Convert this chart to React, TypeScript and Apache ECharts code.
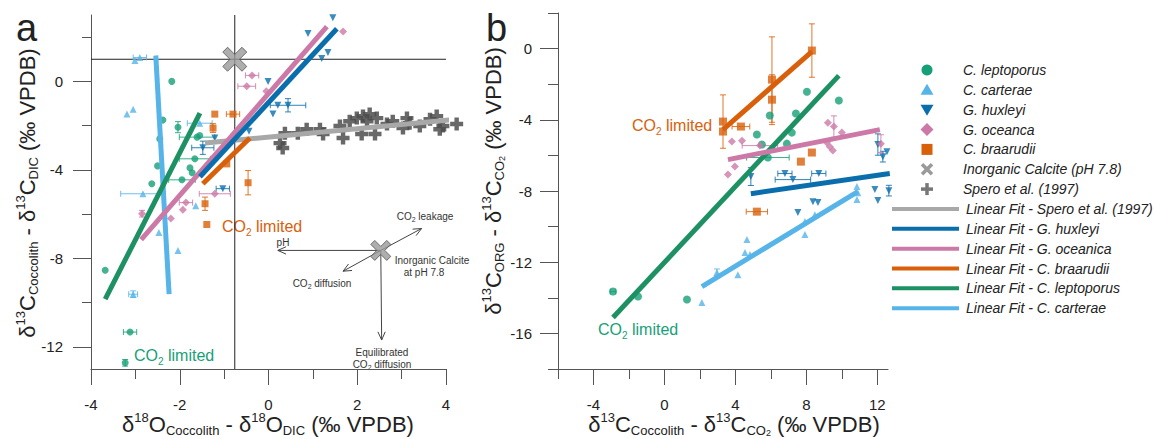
import React, { useEffect, useRef } from 'react';
import * as echarts from 'echarts';

// ---------- DATA ----------
// Panel a: [δ18O diff, δ13C diff, xErr, yErr]
const aLeptoporus = [
  [-2.18, 0.0, 0, 0], [-2.38, -1.75, 0, 0], [-2.04, -2.07, 0, 0.25], [-2.45, -2.6, 0, 0],
  [-1.61, -2.52, 0.4, 0], [-1.55, -2.45, 0, 0], [-1.66, -3.5, 0.35, 0], [-2.5, -3.82, 0, 0],
  [-1.77, -3.91, 0, 0], [-1.72, -4.13, 0, 0], [-1.95, -4.45, 0.3, 0], [-2.63, -4.63, 0, 0],
  [-3.68, -8.54, 0, 0], [-3.12, -11.33, 0.15, 0], [-3.23, -12.72, 0, 0.15],
];
const aCarterae = [
  [-2.9, 1.08, 0.15, 0], [-3.01, 0.94, 0, 0], [-3.19, -1.48, 0, 0], [-3.05, -1.26, 0, 0],
  [-1.55, -1.89, 0.28, 0], [-2.83, -5.08, 0.5, 0], [-1.64, -5.62, 0, 0], [-2.47, -6.83, 0, 0],
  [-2.04, -7.64, 0, 0], [-3.05, -9.62, 0.1, 0.15],
];
const aHuxleyi = [
  [-1.48, -3.0, 0.25, 0.3], [-1.21, -2.56, 0, 0], [-0.44, -2.25, 0, 0], [-0.01, 0.0, 0, 0],
  [1.34, 1.3, 0, 0], [1.2, 1.03, 0, 0], [0.89, 2.16, 0, 0], [1.45, 2.88, 0, 0],
  [0.21, -1.08, 0, 0], [0.44, -1.08, 0.4, 0.3], [0.1, -1.48, 0, 0], [-1.03, -4.85, 0.15, 0],
];
const aOceanica = [
  [-0.37, 0.27, 0.15, 0], [-0.49, -0.22, 0.2, 0], [1.68, 2.25, 0, 0], [-0.05, -0.45, 0, 0],
  [-1.21, -5.08, 0.35, 0], [-1.86, -5.48, 0.15, 0], [-1.93, -5.8, 0, 0], [-2.85, -5.98, 0, 0.15],
  [-2.2, -6.2, 0, 0],
];
const aBraarudii = [
  [-1.21, -1.48, 0, 0], [-0.8, -1.48, 0.15, 0], [-1.25, -2.11, 0, 0.2], [-0.94, -3.73, 0, 0],
  [-1.43, -5.53, 0, 0.3], [-1.39, -6.47, 0, 0], [-0.46, -4.58, 0, 0.55],
];
const aSpero = [
  [0.37, -2.34], [0.26, -2.79], [0.32, -3.01], [0.66, -2.34], [0.86, -2.16], [1.16, -2.16],
  [1.23, -2.38], [1.61, -2.02], [1.68, -2.56], [1.83, -1.8], [1.99, -1.66], [2.13, -1.57],
  [2.22, -1.8], [2.28, -1.48], [2.44, -1.66], [2.1, -2.38], [2.4, -2.38], [2.67, -1.93],
  [2.8, -1.8], [3.03, -2.11], [3.12, -1.66], [3.18, -1.89], [3.41, -2.02], [3.64, -1.71],
  [3.79, -1.57], [3.93, -2.02], [3.86, -2.16], [4.24, -1.93],
];
const aInorganic = [[-0.76, 1.0]];
const aRefH = [[-4, 1.0], [4, 1.0]];
const aRefV = [[-0.76, -13], [-0.76, 3]];
// schematic: centre X and arrow ends [x1, y1, x2, y2]
const aSchemeCentre = [[2.53, -7.64]];
const aArrows = [
  [2.53, -7.64, 0.21, -7.64],
  [2.53, -7.64, 3.45, -6.65],
  [2.53, -7.64, 1.68, -8.58],
  [2.53, -7.64, 2.55, -11.69],
];
// linear fits, panel a
const aFitCarterae = [[-2.54, 1.17], [-2.24, -9.62]];
const aFitLeptoporus = [[-3.68, -9.84], [-1.545, -1.44]];
const aFitOceanica = [[-2.87, -7.15], [1.315, 2.47]];
const aFitHuxleyi = [[-1.545, -4.31], [1.54, 2.38]];
const aFitBraarudii = [[-1.48, -4.63], [-0.42, -2.56]];
const aFitSpero = [[-1.43, -2.79], [4.25, -1.71]];

// Panel b: [δ13C coccolith - CO2, δ13C org - CO2, xErr, yErr]
const bLeptoporus = [
  [5.94, -3.76, 0, 0], [5.21, -4.83, 0, 0], [5.49, -5.39, 0, 0], [5.83, -6.12, 1.2, 0],
  [7.18, -4.72, 0, 0], [7.41, -3.65, 0, 0], [6.9, -5.34, 0, 0], [8.03, -2.42, 0, 0],
  [9.83, -2.92, 0, 0], [-2.9, -13.65, 0.15, 0], [-1.49, -13.93, 0, 0], [1.27, -14.1, 0, 0],
];
const bCarterae = [
  [2.11, -14.27, 0, 0], [2.96, -12.58, 0, 0.2], [4.14, -12.7, 0, 0], [4.65, -10.73, 0, 0],
  [4.54, -11.46, 0, 0], [4.82, -11.57, 0, 0], [7.92, -9.72, 0, 0], [7.92, -10.45, 0, 0],
  [8.48, -9.33, 0, 0], [10.85, -7.75, 0, 0], [10.85, -8.48, 0, 0], [10.9, -8.1, 0, 0],
];
const bHuxleyi = [
  [4.87, -7.19, 0, 0.5], [6.79, -7.02, 0.4, 0], [7.24, -7.36, 1.0, 0], [8.7, -7.02, 0.4, 0],
  [12.03, -5.39, 0, 0.6], [12.54, -5.79, 0, 0], [12.31, -6.07, 0, 0.3], [11.86, -7.92, 0, 0],
  [12.03, -8.54, 0, 0], [12.65, -7.98, 0, 0.3], [7.52, -9.21, 0, 0], [8.37, -8.6, 0, 0],
  [8.65, -8.65, 0, 0],
];
const bOceanica = [
  [3.8, -5.22, 0, 0], [4.37, -5.17, 0, 0], [5.38, -5.45, 1.0, 0], [3.97, -6.63, 0, 0],
  [3.58, -7.08, 0, 0], [9.21, -4.16, 0, 0], [9.55, -4.38, 0, 0.6], [10.0, -4.72, 0, 0],
  [9.15, -5.28, 0, 0], [9.32, -5.51, 0, 0], [9.49, -5.73, 0, 0], [12.2, -5.34, 0, 0.5],
];
const bBraarudii = [
  [3.3, -4.1, 0, 1.5], [3.3, -4.66, 0, 0], [4.31, -4.38, 0.5, 0], [6.06, -1.74, 0, 2.4],
  [6.06, -2.87, 0, 1.4], [8.31, -0.11, 0, 1.5], [7.69, -6.35, 0, 0], [8.31, -5.84, 0, 0],
  [5.21, -9.16, 0.6, 0],
];
const bFitBraarudii = [[3.3, -4.55], [8.31, -0.17]];
const bFitLeptoporus = [[-2.9, -15.11], [9.83, -1.52]];
const bFitOceanica = [[3.58, -6.24], [12.14, -4.55]];
const bFitHuxleyi = [[4.87, -8.15], [12.7, -7.02]];
const bFitCarterae = [[2.11, -13.37], [10.9, -8.03]];

const legendLabels = [
  'C. leptoporus', 'C. carterae', 'G. huxleyi', 'G. oceanca', 'C. braarudii',
  'Inorganic Calcite (pH 7.8)', 'Spero et al. (1997)',
  'Linear Fit - Spero et al. (1997)', 'Linear Fit - G. huxleyi', 'Linear Fit - G. oceanica',
  'Linear Fit - C. braarudii', 'Linear Fit - C. leptoporus', 'Linear Fit - C. carterae',
];

// ---------- STYLE ----------
const FF = '"Liberation Sans", Arial, Helvetica, sans-serif';
const C = {
  lep: '#17a077', lepLine: '#1d9163', car: '#56b4e9', hux: '#0b6eac', oce: '#cc79a7',
  bra: '#d9600a', gray: '#9a9a9a', spero: '#4d4d4d', fitSpero: '#a8a8a8',
};
const AX = '#555';
const TXT = '#222';
const PLUS = 'path://M3.3,0h3.4v3.3h3.3v3.4h-3.3v3.3h-3.4v-3.3h-3.3v-3.4h3.3z';
const XSYM = 'path://M2,0L5,3L8,0L10,2L7,5L10,8L8,10L5,7L2,10L0,8L3,5L0,2Z';

function scatter(data: number[][], gi: number, symbol: string, color: string, size: number, rotate = 0) {
  return {
    type: 'scatter', xAxisIndex: gi, yAxisIndex: gi, data: data.map((d) => [d[0], d[1]]),
    symbol, symbolSize: size, symbolRotate: rotate, itemStyle: { color },
    clip: false, z: 3, silent: true,
  };
}
function errBars(data: number[][], gi: number, color: string) {
  return {
    type: 'custom', xAxisIndex: gi, yAxisIndex: gi, silent: true, z: 2, clip: false,
    data: data.filter((d) => d[2] > 0 || d[3] > 0), encode: { x: 0, y: 1 },
    renderItem: (_p: any, api: any) => {
      const x = api.value(0), y = api.value(1), xe = api.value(2), ye = api.value(3);
      const st = { stroke: color, lineWidth: 1, opacity: 0.85 };
      const ch: any[] = [];
      const ln = (a: number[], b: number[]) => ({ type: 'line', shape: { x1: a[0], y1: a[1], x2: b[0], y2: b[1] }, style: st });
      if (xe > 0) {
        const l = api.coord([x - xe, y]), r = api.coord([x + xe, y]);
        ch.push(ln(l, r), ln([l[0], l[1] - 3], [l[0], l[1] + 3]), ln([r[0], r[1] - 3], [r[0], r[1] + 3]));
      }
      if (ye > 0) {
        const t = api.coord([x, y + ye]), b = api.coord([x, y - ye]);
        ch.push(ln(t, b), ln([t[0] - 3, t[1]], [t[0] + 3, t[1]]), ln([b[0] - 3, b[1]], [b[0] + 3, b[1]]));
      }
      return { type: 'group', children: ch };
    },
  };
}
function fit(pts: number[][], gi: number, color: string, width = 5) {
  return {
    type: 'line', xAxisIndex: gi, yAxisIndex: gi, data: pts, symbol: 'none', showSymbol: false,
    lineStyle: { color, width, cap: 'butt' }, clip: false, z: 4, silent: true,
  };
}
function refLine(pts: number[][], gi: number) {
  return {
    type: 'line', xAxisIndex: gi, yAxisIndex: gi, data: pts, symbol: 'none',
    lineStyle: { color: '#222', width: 1 }, z: 1, silent: true,
  };
}
function arrows(data: number[][], gi: number) {
  return {
    type: 'custom', xAxisIndex: gi, yAxisIndex: gi, silent: true, z: 5, data, encode: { x: [0, 2], y: [1, 3] },
    renderItem: (_p: any, api: any) => {
      const s = api.coord([api.value(0), api.value(1)]);
      const e = api.coord([api.value(2), api.value(3)]);
      const ang = Math.atan2(e[1] - s[1], e[0] - s[0]);
      const h = 9, w = 0.42;
      const p1 = [e[0] - h * Math.cos(ang - w), e[1] - h * Math.sin(ang - w)];
      const p2 = [e[0] - h * Math.cos(ang + w), e[1] - h * Math.sin(ang + w)];
      const st = { stroke: '#444', lineWidth: 1, fill: null };
      return {
        type: 'group', children: [
          { type: 'line', shape: { x1: s[0], y1: s[1], x2: e[0], y2: e[1] }, style: st },
          { type: 'polyline', shape: { points: [p1, e, p2] }, style: st },
        ],
      };
    },
  };
}

const T = 22, S = 13;
const richTitle: any = {
  m: { fontSize: T, fontFamily: FF, fill: TXT, lineHeight: 26 },
  p: { fontSize: S, fontFamily: FF, fill: TXT, lineHeight: 14, verticalAlign: 'top' },
  b: { fontSize: S, fontFamily: FF, fill: TXT, lineHeight: 12, verticalAlign: 'bottom' },
  bb: { fontSize: 9, fontFamily: FF, fill: TXT, lineHeight: 6, verticalAlign: 'bottom' },
};
const richSmall: any = {
  s: { fontSize: 10, fontFamily: FF, fill: '#333', lineHeight: 14 },
  u: { fontSize: 7, fontFamily: FF, fill: '#333', lineHeight: 6, verticalAlign: 'bottom' },
};
function limRich(color: string) {
  return {
    o: { fontSize: 16, fontFamily: FF, fill: color, lineHeight: 22 },
    u: { fontSize: 10, fontFamily: FF, fill: color, lineHeight: 9, verticalAlign: 'bottom' },
  };
}

function buildGraphic() {
  const g: any[] = [];
  const txt = (x: number, y: number, text: string, rich: any, align = 'center', rotation = 0) =>
    g.push({ type: 'text', x, y, rotation, silent: true, style: { text, rich, align, verticalAlign: 'middle' } });
  // panel letters
  g.push({ type: 'text', x: 16, y: 28, style: { text: 'a', fontSize: 38, fontFamily: FF, fill: TXT, verticalAlign: 'middle' } });
  g.push({ type: 'text', x: 486, y: 28, style: { text: 'b', fontSize: 38, fontFamily: FF, fill: TXT, verticalAlign: 'middle' } });
  // axis titles
  txt(268, 424, '{m|δ}{p|18}{m|O}{b|Coccolith}{m| - δ}{p|18}{m|O}{b|DIC}{m| (‰ VPDB)}', richTitle);
  txt(734, 424, '{m|δ}{p|13}{m|C}{b|Coccolith}{m| - δ}{p|13}{m|C}{b|CO}{bb|2}{m| (‰ VPDB)}', richTitle);
  txt(27, 193, '{m|δ}{p|13}{m|C}{b|Coccolith}{m| - δ}{p|13}{m|C}{b|DIC}{m| (‰ VPDB)}', richTitle, 'center', Math.PI / 2);
  txt(493, 181, '{m|δ}{p|13}{m|C}{b|ORG}{m| - δ}{p|13}{m|C}{b|CO}{bb|2}{m| (‰ VPDB)}', richTitle, 'center', Math.PI / 2);
  // CO2 limited labels
  txt(222, 226, '{o|CO}{u|2}{o| limited}', limRich(C.bra), 'left');
  txt(134, 355, '{o|CO}{u|2}{o| limited}', limRich(C.lep), 'left');
  txt(632, 125, '{o|CO}{u|2}{o| limited}', limRich(C.bra), 'left');
  txt(598, 329, '{o|CO}{u|2}{o| limited}', limRich(C.lep), 'left');
  // schematic labels
  txt(425, 216, '{s|CO}{u|2}{s| leakage}', richSmall);
  txt(283, 242, '{s|pH}', richSmall);
  txt(322, 283, '{s|CO}{u|2}{s| diffusion}', richSmall);
  txt(432, 260, '{s|Inorganic Calcite}', richSmall);
  txt(424, 272, '{s|at pH 7.8}', richSmall);
  txt(382, 352, '{s|Equilibrated}', richSmall);
  txt(382, 364, '{s|CO}{u|2}{s| diffusion}', richSmall);
  // legend
  const cx = 927, y0 = 70, dy = 19.85;
  const ys = legendLabels.map((_, i) => y0 + i * dy);
  g.push({ type: 'circle', shape: { cx, cy: ys[0], r: 5.5 }, style: { fill: C.lep } });
  g.push({ type: 'polygon', shape: { points: [[cx, ys[1] - 6], [cx - 6.5, ys[1] + 5], [cx + 6.5, ys[1] + 5]] }, style: { fill: C.car } });
  g.push({ type: 'polygon', shape: { points: [[cx - 6.5, ys[2] - 5], [cx + 6.5, ys[2] - 5], [cx, ys[2] + 6]] }, style: { fill: C.hux } });
  g.push({ type: 'polygon', shape: { points: [[cx, ys[3] - 6.5], [cx + 6.5, ys[3]], [cx, ys[3] + 6.5], [cx - 6.5, ys[3]]] }, style: { fill: C.oce } });
  g.push({ type: 'rect', shape: { x: cx - 5.5, y: ys[4] - 5.5, width: 11, height: 11 }, style: { fill: C.bra } });
  g.push({ type: 'line', shape: { x1: cx - 5, y1: ys[5] - 5, x2: cx + 5, y2: ys[5] + 5 }, style: { stroke: C.gray, lineWidth: 3.5 } });
  g.push({ type: 'line', shape: { x1: cx - 5, y1: ys[5] + 5, x2: cx + 5, y2: ys[5] - 5 }, style: { stroke: C.gray, lineWidth: 3.5 } });
  g.push({ type: 'line', shape: { x1: cx - 6, y1: ys[6], x2: cx + 6, y2: ys[6] }, style: { stroke: '#777', lineWidth: 3.5 } });
  g.push({ type: 'line', shape: { x1: cx, y1: ys[6] - 6, x2: cx, y2: ys[6] + 6 }, style: { stroke: '#777', lineWidth: 3.5 } });
  const lineCols = [C.fitSpero, C.hux, C.oce, C.bra, C.lepLine, C.car];
  lineCols.forEach((col, i) => {
    const y = ys[7 + i];
    g.push({ type: 'line', shape: { x1: 892, y1: y, x2: 959, y2: y }, style: { stroke: col, lineWidth: 4 } });
  });
  legendLabels.forEach((lab, i) => {
    g.push({
      type: 'text', x: i < 7 ? 963 : 966, y: ys[i], silent: true,
      style: { text: lab, fontSize: 14, fontStyle: 'italic', fontFamily: FF, fill: TXT, verticalAlign: 'middle' },
    });
  });
  return g;
}

const labelStyle = { fontSize: 15, color: TXT, fontFamily: FF };
const noSplit = { splitLine: { show: false }, minorSplitLine: { show: false } };
const lineOnly = {
  type: 'value', axisLine: { show: true, onZero: false, lineStyle: { color: AX, width: 1 } },
  axisTick: { show: false }, axisLabel: { show: false }, ...noSplit,
};
const hidden = { type: 'value', show: false, ...noSplit };
function tickAxis(gridIndex: number, min: number, max: number, interval: number, length: number, labels: boolean, margin = 28) {
  return {
    gridIndex, type: 'value', min, max, interval,
    axisLine: { show: false, onZero: false },
    axisTick: { show: true, length, lineStyle: { color: AX } },
    axisLabel: labels ? { margin, ...labelStyle } : { show: false },
    ...noSplit,
  };
}

// pixel geometry of the two panels
const A = { left: 91, top: 15, width: 355, height: 354 }; // x -4..4, y -13..3
const B = { left: 558, top: 13, width: 330, height: 356 }; // x -6..12.6, y -18..2
const aPy = A.height / 16;
const bPx = B.width / 18.6;
const bPy = B.height / 20;

export default function App() {
  const ref = useRef<HTMLDivElement>(null);
  useEffect(() => {
    if (!ref.current) return;
    const chart = echarts.init(ref.current, undefined, { renderer: 'svg' });
    const option: any = {
      animation: false,
      backgroundColor: '#ffffff',
      grid: [
        { ...A },
        { left: A.left, width: A.width, top: A.top + aPy, height: 14 * aPy }, // a: y minor -12..2
        { left: A.left, width: A.width, top: A.top + 3 * aPy, height: 12 * aPy }, // a: y major -12..0
        { ...B },
        { left: B.left, width: 18 * bPx, top: B.top, height: B.height }, // b: x minor -6..12
        { left: B.left + 2 * bPx, width: 16 * bPx, top: B.top, height: B.height }, // b: x major -4..12
        { left: B.left, width: B.width, top: B.top + 2 * bPy, height: 16 * bPy }, // b: y major -16..0
      ],
      xAxis: [
        {
          gridIndex: 0, type: 'value', min: -4, max: 4, interval: 2,
          axisLine: { show: true, onZero: false, lineStyle: { color: AX } },
          axisTick: { show: true, length: 16, lineStyle: { color: AX } },
          minorTick: { show: true, splitNumber: 2, length: 10, lineStyle: { color: AX } },
          axisLabel: { margin: 28, ...labelStyle }, ...noSplit,
        },
        { gridIndex: 1, min: -4, max: 4, ...hidden },
        { gridIndex: 2, min: -4, max: 4, ...hidden },
        { gridIndex: 3, min: -6, max: 12.6, ...lineOnly },
        tickAxis(4, -6, 12, 2, 10, false),
        tickAxis(5, -4, 12, 4, 16, true),
        { gridIndex: 6, min: -6, max: 12.6, ...hidden },
      ],
      yAxis: [
        { gridIndex: 0, min: -13, max: 3, ...lineOnly },
        tickAxis(1, -12, 2, 2, 9, false),
        tickAxis(2, -12, 0, 4, 18, true),
        {
          gridIndex: 3, type: 'value', min: -18, max: 2, interval: 2,
          axisLine: { show: true, onZero: false, lineStyle: { color: AX } },
          axisTick: { show: true, length: 10, lineStyle: { color: AX } },
          axisLabel: { show: false }, ...noSplit,
        },
        { gridIndex: 4, min: -18, max: 2, ...hidden },
        { gridIndex: 5, min: -18, max: 2, ...hidden },
        tickAxis(6, -16, 0, 4, 18, true, 26),
      ],
      series: [
        // panel a
        refLine(aRefH, 0), refLine(aRefV, 0),
        { ...scatter(aSpero, 0, PLUS, C.spero, 13), itemStyle: { color: C.spero, opacity: 0.85 } },
        errBars(aLeptoporus, 0, C.lep), errBars(aCarterae, 0, C.car), errBars(aHuxleyi, 0, C.hux),
        errBars(aOceanica, 0, C.oce), errBars(aBraarudii, 0, C.bra),
        scatter(aLeptoporus, 0, 'circle', C.lep, 7),
        scatter(aCarterae, 0, 'triangle', C.car, 7),
        scatter(aHuxleyi, 0, 'triangle', C.hux, 7, 180),
        scatter(aOceanica, 0, 'diamond', C.oce, 8),
        scatter(aBraarudii, 0, 'rect', C.bra, 7),
        fit(aFitSpero, 0, C.fitSpero), fit(aFitCarterae, 0, C.car), fit(aFitLeptoporus, 0, C.lepLine),
        fit(aFitOceanica, 0, C.oce), fit(aFitHuxleyi, 0, C.hux), fit(aFitBraarudii, 0, C.bra),
        arrows(aArrows, 0),
        { ...scatter(aInorganic, 0, XSYM, C.gray, 24), z: 6, itemStyle: { color: C.gray, borderColor: '#555', borderWidth: 1 } },
        { ...scatter(aSchemeCentre, 0, XSYM, C.gray, 20), z: 6, itemStyle: { color: C.gray, borderColor: '#555', borderWidth: 1 } },
        // panel b
        errBars(bLeptoporus, 3, C.lep), errBars(bCarterae, 3, C.car), errBars(bHuxleyi, 3, C.hux),
        errBars(bOceanica, 3, C.oce), errBars(bBraarudii, 3, C.bra),
        scatter(bLeptoporus, 3, 'circle', C.lep, 8),
        scatter(bCarterae, 3, 'triangle', C.car, 7),
        scatter(bHuxleyi, 3, 'triangle', C.hux, 7, 180),
        scatter(bOceanica, 3, 'diamond', C.oce, 8),
        scatter(bBraarudii, 3, 'rect', C.bra, 8),
        fit(bFitBraarudii, 3, C.bra), fit(bFitLeptoporus, 3, C.lepLine), fit(bFitOceanica, 3, C.oce),
        fit(bFitHuxleyi, 3, C.hux), fit(bFitCarterae, 3, C.car),
      ],
      graphic: buildGraphic(),
    };
    chart.setOption(option);
    return () => chart.dispose();
  }, []);
  return <div ref={ref} style={{ position: 'fixed', left: 0, top: 0, width: 1155, height: 439, background: '#fff' }} />;
}
